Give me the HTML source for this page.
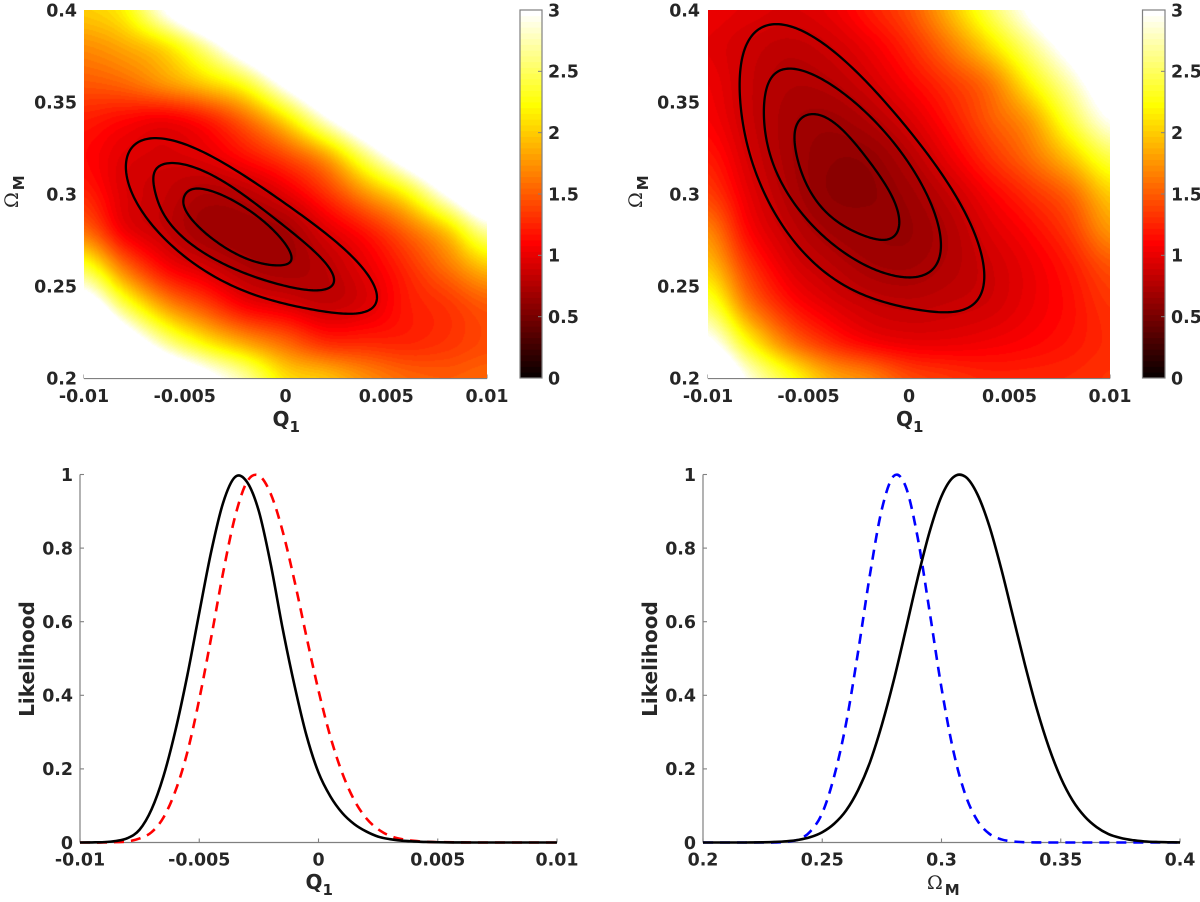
<!DOCTYPE html>
<html lang="en">
<head>
<meta charset="utf-8">
<title>Likelihood contours and marginals</title>
<style>
html,body{margin:0;padding:0;background:#fff;}
#figure{display:block;width:1200px;height:902px;}
text{font-family:"DejaVu Sans","Liberation Sans",sans-serif;font-weight:bold;fill:#262626;font-size:17.4px;}
.serif{font-family:"DejaVu Serif","Liberation Serif",serif;font-weight:normal;font-size:19px;}
.lab{font-size:20px;}
.sub{font-size:15px;}
</style>
</head>
<body>
<svg id="figure" xmlns="http://www.w3.org/2000/svg" width="1200" height="902" viewBox="0 0 1200 902"></svg>
<script>
// Q1 is expressed in units of 1e-3 in every array below.
const heatQ = [-10,-8,-6,-4,-2,0,2,4,6,8,10];
const heatOm = [0.40,0.38,0.36,0.34,0.32,0.30,0.28,0.26,0.24,0.22,0.20];
const heatValuesA = [
[2.0,2.2,2.97,3.73,4.5,5.25,6.03,6.8,7.55,8.3,9.1],
[1.72,1.85,2.1,2.66,3.4,4.18,4.96,5.74,6.5,7.3,8.1],
[1.48,1.55,1.75,2.0,2.35,3.1,3.9,4.65,5.4,6.2,7],
[1.22,1.12,1.05,1.2,1.55,2.08,2.84,3.6,4.37,5.15,5.95],
[1.13,.97,.92,.97,1.15,1.4,1.8,2.54,3.3,4.07,4.85],
[1.25,.95,.85,.75,.8,.98,1.3,1.75,2.22,3.0,3.76],
[1.58,1.05,.85,.69,.67,.7,.95,1.2,1.55,2.0,2.7],
[2.39,1.62,1.125,.92,.76,.71,.8,1.0,1.28,1.6,1.95],
[3.36,2.44,1.77,1.4,1.07,.95,.85,.95,1.2,1.33,1.5],
[4.36,3.44,2.65,2.15,1.8,1.53,1.27,1.25,1.25,1.32,1.42],
[5.36,4.44,3.65,3.14,2.68,2.1,1.95,1.72,1.55,1.5,1.55]
];
const heatValuesB = [
[1.02,.97,.93,1.0,1.2,1.45,1.9,2.45,3.03,3.6,4.2],
[.98,.88,.82,.88,1.03,1.27,1.62,2.06,2.6,3.16,3.7],
[1.03,.86,.76,.78,.9,1.1,1.33,1.62,2.18,2.74,3.29],
[1.08,.87,.72,.68,.76,.93,1.18,1.48,1.79,2.39,2.95],
[1.2,.92,.72,.62,.63,.78,1.02,1.3,1.58,1.97,2.43],
[1.37,1.0,.76,.61,.6,.68,.85,1.08,1.3,1.55,2.0],
[1.68,1.12,.85,.7,.65,.65,.76,.95,1.12,1.35,1.75],
[1.98,1.35,.98,.82,.72,.7,.77,.88,1.02,1.2,1.45],
[2.43,1.65,1.2,.98,.86,.82,.85,.9,1.02,1.15,1.32],
[3.05,2.23,1.62,1.28,1.08,1.0,1.0,1.04,1.1,1.18,1.28],
[3.75,2.9,2.32,1.87,1.68,1.42,1.32,1.25,1.25,1.27,1.32]
];
const contourA3Q = [-8.02,-7.62,-6.48,-5.09,-3.25,-1.27,.72,2.71,3.95,4.59,4.49,3.95,2.71,1.37,-.27,-1.91,-3.6,-5.24,-6.87,-7.72];
const contourA3Om = [.3158,.3255,.331,.3283,.3185,.3038,.2897,.2723,.2587,.2462,.2397,.2359,.2348,.237,.2408,.2467,.2549,.2679,.2859,.3022];
const contourA2Q = [-6.63,-6.33,-5.58,-3.9,-1.27,.72,1.96,2.46,2.36,1.61,-.27,-1.91,-3.6,-5.24,-6.08,-6.53];
const contourA2Om = [.3103,.3147,.3168,.313,.2929,.2761,.263,.2543,.2495,.2473,.2505,.256,.2652,.2766,.2902,.3022];
const contourA1Q = [-5.09,-4.89,-4.39,-3.25,-1.27,-.02,.37,.22,-.42,-1.91,-3.6,-4.64,-5.04];
const contourA1Om = [.2978,.3011,.3033,.3005,.2875,.2734,.2652,.2625,.2609,.2641,.275,.2859,.2924];
const contourB3Q = [-8.56,-8.31,-7.76,-6.57,-5.27,-3.43,-1.44,.55,2.89,3.68,3.88,3.63,2.69,1.54,-.6,-3.08,-5.27,-6.52,-7.26,-8.06];
const contourB3Om = [.3549,.3728,.3875,.3929,.3902,.3745,.3527,.3293,.2875,.2658,.2549,.2451,.237,.2353,.2386,.2495,.2658,.287,.3022,.3277];
const contourB2Q = [-7.26,-7.01,-6.42,-5.77,-4.28,-2.09,-.1,1.19,1.64,1.39,.4,-.45,-1.79,-3.93,-5.92,-6.57,-7.06];
const contourB2Om = [.3495,.362,.3674,.3685,.363,.344,.3201,.2929,.2712,.2603,.2543,.2549,.2587,.2734,.2967,.3092,.3293];
const contourB1Q = [-5.77,-5.57,-4.83,-3.78,-2.09,-.8,-.4,-.8,-1.44,-2.59,-3.93,-4.68,-5.27];
const contourB1Om = [.3293,.3391,.344,.3402,.3201,.2984,.2848,.2761,.2745,.2788,.2875,.2967,.3092];
const likeQ = [-10,-9.5,-9,-8.5,-8,-7.5,-7,-6.5,-6,-5.5,-5,-4.5,-4,-3.5,-3,-2.5,-2,-1.5,-1,-.5,0,.5,1,1.5,2,2.5,3,3.5,4,4.5,5,6,7,8,9,10];
const likeQBlack = [0,.0003,.001,.004,.012,.035,.09,.18,.304,.454,.624,.79,.923,.993,.98,.9,.755,.58,.425,.29,.19,.125,.08,.05,.03,.016,.009,.005,.003,.0015,.0007,.0001,0,0,0,0];
const likeQRed = [0,0,0,.001,.003,.011,.028,.068,.14,.245,.389,.557,.733,.885,.98,.997,.947,.845,.709,.558,.413,.287,.188,.115,.066,.036,.018,.009,.0045,.002,.001,.0002,0,0,0,0];
const likeOm = [.2,.205,.21,.215,.22,.225,.23,.235,.24,.245,.25,.255,.26,.265,.27,.275,.28,.285,.29,.295,.3,.305,.31,.315,.32,.325,.33,.335,.34,.345,.35,.355,.36,.365,.37,.375,.38,.385,.39,.395,.4];
const likeOmBlack = [0,0,0,0,.0001,.0005,.0015,.0034,.0072,.0146,.028,.051,.087,.142,.218,.32,.441,.578,.718,.844,.941,.993,.994,.947,.861,.745,.614,.483,.362,.259,.176,.114,.071,.042,.023,.0125,.0064,.0031,.0014,.0006,.0002];
const likeOmBlue = [0,0,0,0,0,0,0,.002,.008,.03,.08,.18,.324,.517,.728,.906,.996,.967,.829,.628,.42,.248,.13,.06,.024,.0087,.0028,.0008,.0002,0,0,0,0,0,0,0,0,0,0,0,0];
const heatXTicks = [-10,-5,0,5,10];
const heatXLabels = ['-0.01','-0.005','0','0.005','0.01'];
const heatYTicks = [.2,.25,.3,.35,.4];
const heatYLabels = ['0.2','0.25','0.3','0.35','0.4'];
const cbTicks = [0,.5,1,1.5,2,2.5,3];
const cbLabels = ['0','0.5','1','1.5','2','2.5','3'];
const likeYTicks = [0,.2,.4,.6,.8,1];
const likeYLabels = ['0','0.2','0.4','0.6','0.8','1'];
const omXTicks = [.2,.25,.3,.35,.4];
const omXLabels = ['0.2','0.25','0.3','0.35','0.4'];

const NS = 'http://www.w3.org/2000/svg';
const root = document.getElementById('figure');
const AXIS = '#808080';

function make(tag, attrs, parent) {
  const el = document.createElementNS(NS, tag);
  for (const k in attrs) el.setAttribute(k, attrs[k]);
  (parent || root).appendChild(el);
  return el;
}
function linear(d0, d1, r0, r1) {
  return v => r0 + (v - d0) / (d1 - d0) * (r1 - r0);
}
function hotColor(v) {
  let i = Math.floor(v / 3 * 64);
  if (i > 63) i = 63;
  if (i < 0) i = 0;
  const n = i + 1;
  const r = Math.min(1, n / 24);
  const g = Math.max(0, Math.min(1, (n - 24) / 24));
  const b = Math.max(0, Math.min(1, (n - 48) / 16));
  return [Math.round(r * 255), Math.round(g * 255), Math.round(b * 255)];
}
function cr(p0, p1, p2, p3, t) {
  return 0.5 * (2 * p1 + (p2 - p0) * t + (2 * p0 - 5 * p1 + 4 * p2 - p3) * t * t + (3 * p1 - p0 - 3 * p2 + p3) * t * t * t);
}
function sampleGrid(grid, fx, fy) {
  const ny = grid.length, nx = grid[0].length;
  const iy = Math.min(ny - 2, Math.floor(fy)), ix = Math.min(nx - 2, Math.floor(fx));
  const ty = fy - iy, tx = fx - ix;
  const col = [];
  for (let j = -1; j <= 2; j++) {
    const row = grid[Math.max(0, Math.min(ny - 1, iy + j))];
    const g = k => row[Math.max(0, Math.min(nx - 1, ix + k))];
    col.push(cr(g(-1), g(0), g(1), g(2), tx));
  }
  return cr(col[0], col[1], col[2], col[3], ty);
}
function drawHeat(name, grid, x, y) {
  const left = x(heatQ[0]), right = x(heatQ[heatQ.length - 1]);
  const top = y(heatOm[0]), bottom = y(heatOm[heatOm.length - 1]);
  const w = Math.round(right - left), h = Math.round(bottom - top);
  const fo = make('foreignObject', {x: left, y: top, width: w, height: h});
  
  
  const cv = document.createElement('canvas');
  cv.width = w;
  cv.height = h;
  cv.style.display = 'block';
  fo.appendChild(cv);
  const ctx = cv.getContext('2d');
  const img = ctx.createImageData(w, h);
  for (let py = 0; py < h; py++) {
    const fy = (py + 0.5) / h * (heatOm.length - 1);
    for (let px = 0; px < w; px++) {
      const fx = (px + 0.5) / w * (heatQ.length - 1);
      const c = hotColor(sampleGrid(grid, fx, fy));
      const o = (py * w + px) * 4;
      img.data[o] = c[0];
      img.data[o + 1] = c[1];
      img.data[o + 2] = c[2];
      img.data[o + 3] = 255;
    }
  }
  ctx.putImageData(img, 0, 0);
}
// Smooth closed curve through the read contour points: whitened-arc parameter, low harmonics only.
function smoothLoop(raw, keep) {
  const dense = [];
  for (let i = 0; i < raw.length; i++) {
    const a = raw[i], b = raw[(i + 1) % raw.length];
    for (let s = 0; s < 10; s++) dense.push([a[0] + (b[0] - a[0]) * s / 10, a[1] + (b[1] - a[1]) * s / 10]);
  }
  let mx = 0, my = 0;
  dense.forEach(p => { mx += p[0]; my += p[1]; });
  mx /= dense.length;
  my /= dense.length;
  let sxx = 0, sxy = 0, syy = 0;
  dense.forEach(p => { sxx += (p[0] - mx) ** 2; sxy += (p[0] - mx) * (p[1] - my); syy += (p[1] - my) ** 2; });
  sxx /= dense.length;
  sxy /= dense.length;
  syy /= dense.length;
  const l11 = Math.sqrt(sxx), l21 = sxy / l11, l22 = Math.sqrt(syy - l21 * l21);
  const white = p => { const u = (p[0] - mx) / l11; return [u, (p[1] - my - l21 * u) / l22]; };
  const cum = [0];
  for (let i = 0; i < dense.length; i++) {
    const a = white(dense[i]), b = white(dense[(i + 1) % dense.length]);
    cum.push(cum[i] + Math.hypot(b[0] - a[0], b[1] - a[1]));
  }
  const total = cum[dense.length];
  const N = 240, X = [], Y = [];
  let seg = 0;
  for (let i = 0; i < N; i++) {
    const s = i / N * total;
    while (cum[seg + 1] < s) seg++;
    const t = (s - cum[seg]) / (cum[seg + 1] - cum[seg]);
    const a = dense[seg], b = dense[(seg + 1) % dense.length];
    X.push(a[0] + (b[0] - a[0]) * t);
    Y.push(a[1] + (b[1] - a[1]) * t);
  }
  const rebuild = S => {
    const out = new Array(N).fill(0);
    for (let k = 0; k <= keep; k++) {
      let re = 0, im = 0;
      for (let i = 0; i < N; i++) {
        re += S[i] * Math.cos(2 * Math.PI * k * i / N);
        im += S[i] * Math.sin(2 * Math.PI * k * i / N);
      }
      const f = (k === 0 ? 1 : 2) / N;
      for (let i = 0; i < N; i++) {
        out[i] += f * (re * Math.cos(2 * Math.PI * k * i / N) + im * Math.sin(2 * Math.PI * k * i / N));
      }
    }
    return out;
  };
  const XS = rebuild(X), YS = rebuild(Y);
  return XS.map((v, i) => [v, YS[i]]);
}
function drawContour(name, qs, oms, x, y) {
  const raw = qs.map((q, i) => [x(q), y(oms[i])]);
  const loop = smoothLoop(raw, 4);
  const d = 'M' + loop.map(p => p[0].toFixed(2) + ' ' + p[1].toFixed(2)).join('L') + 'Z';
  const p = make('path', {d: d, fill: 'none', stroke: '#000', 'stroke-width': 2.3});
  
  
}
function openPath(xs, ys, x, y) {
  const n = xs.length;
  const P = i => { const k = Math.max(0, Math.min(n - 1, i)); return [x(xs[k]), y(ys[k])]; };
  let d = 'M' + P(0)[0].toFixed(2) + ' ' + P(0)[1].toFixed(2);
  for (let i = 0; i < n - 1; i++) {
    const a = P(i - 1), b = P(i), c = P(i + 1), e = P(i + 2);
    d += 'C' + (b[0] + (c[0] - a[0]) / 6).toFixed(2) + ' ' + (b[1] + (c[1] - a[1]) / 6).toFixed(2) + ' '
      + (c[0] - (e[0] - b[0]) / 6).toFixed(2) + ' ' + (c[1] - (e[1] - b[1]) / 6).toFixed(2) + ' '
      + c[0].toFixed(2) + ' ' + c[1].toFixed(2);
  }
  return d;
}
function drawLine(name, xs, ys, x, y, color, dash) {
  const attrs = {d: openPath(xs, ys, x, y), fill: 'none', stroke: color, 'stroke-width': 2.6};
  if (dash) attrs['stroke-dasharray'] = dash;
  const p = make('path', attrs);
  
  
}
function axisLine(name, x1, y1, x2, y2) {
  const l = make('line', {x1, y1, x2, y2, stroke: AXIS, 'stroke-width': 1.2});
  
  
}
function xAxis(prefix, ticks, labels, x, yBase, labelY, len) {
  axisLine(prefix + '-x-axis-line', x(ticks[0]), yBase, x(ticks[ticks.length - 1]), yBase);
  ticks.forEach((t, i) => {
    const m = make('line', {x1: x(t), y1: yBase, x2: x(t), y2: yBase - len, stroke: AXIS, 'stroke-width': 1.1});
    
    
    const s = make('text', {x: x(t), y: labelY, 'text-anchor': 'middle'});
    s.textContent = labels[i];
    
    
  });
}
function yAxis(prefix, ticks, labels, y, xBase, labelX, len, line) {
  if (line) axisLine(prefix + '-y-axis-line', xBase, y(ticks[0]), xBase, y(ticks[ticks.length - 1]));
  ticks.forEach((t, i) => {
    if (line) {
      const m = make('line', {x1: xBase, y1: y(t), x2: xBase + len, y2: y(t), stroke: AXIS, 'stroke-width': 1.1});
      
      
    }
    const s = make('text', {x: labelX, y: y(t) + 6.3, 'text-anchor': 'end'});
    s.textContent = labels[i];
    
    
  });
}
function colorbar(prefix, x0, x1) {
  const cy = linear(0, 3, 378, 10);
  const group = make('g', {});
  
  
  for (let i = 0; i < 64; i++) {
    const c = hotColor((i + 0.5) / 64 * 3);
    const top = cy((i + 1) / 64 * 3), bot = cy(i / 64 * 3);
    make('rect', {x: x0, y: top, width: x1 - x0, height: bot - top + 0.4, fill: 'rgb(' + c.join(',') + ')'}, group);
  }
  const box = make('rect', {x: x0, y: 10, width: x1 - x0, height: 368, fill: 'none', stroke: AXIS, 'stroke-width': 1.2});
  
  
  cbTicks.forEach((t, i) => {
    const m = make('line', {x1: x1 - 4, y1: cy(t), x2: x1, y2: cy(t), stroke: AXIS, 'stroke-width': 1});
    
    
    const s = make('text', {x: x1 + 6, y: cy(t) + 6.3});
    s.textContent = cbLabels[i];
    
    
  });
}
function q1Label(name, cx, baseline) {
  const t = make('text', {x: cx - 13, y: baseline, class: 'lab'});
  
  
  const a = make('tspan', {}, t);
  a.textContent = 'Q';
  const b = make('tspan', {class: 'sub', dy: 6});
  t.appendChild(b);
  b.textContent = '1';
}
function omLabel(name, x, y, rotate) {
  const attrs = rotate ? {transform: 'translate(' + x + ' ' + y + ') rotate(-90)', x: 0, y: 0} : {x, y};
  attrs['class'] = 'serif';
  const t = make('text', attrs);
  
  
  const a = make('tspan', {}, t);
  a.textContent = 'Ω';
  const b = make('tspan', {dy: 6, dx: 2, style: 'font-family:\'DejaVu Sans\',sans-serif;font-weight:bold;font-size:15px'}, t);
  b.textContent = 'M';
}
function likelihoodLabel(name, x, y) {
  const t = make('text', {transform: 'translate(' + x + ' ' + y + ') rotate(-90)', 'text-anchor': 'middle', class: 'lab', style: 'font-size:20px'});
  t.textContent = 'Likelihood';
  
  
}

// Panel A: top-left map
const xA = linear(-10, 10, 84, 487);
const yA = linear(.2, .4, 378, 10);
xAxis('map-left', heatXTicks, heatXLabels, xA, 378.5, 402, 4);
drawHeat('map-left-heatmap', heatValuesA, xA, yA);
drawContour('map-left-contour-3sigma', contourA3Q, contourA3Om, xA, yA);
drawContour('map-left-contour-2sigma', contourA2Q, contourA2Om, xA, yA);
drawContour('map-left-contour-1sigma', contourA1Q, contourA1Om, xA, yA);
yAxis('map-left', heatYTicks, heatYLabels, yA, 84, 77, 4, false);
colorbar('map-left', 520, 542);
q1Label('map-left-x-axis-title', 285.5, 426);
omLabel('map-left-y-axis-title', 18, 208, true);

// Panel B: top-right map
const xB = linear(-10, 10, 708, 1110);
const yB = linear(.2, .4, 378, 10);
xAxis('map-right', heatXTicks, heatXLabels, xB, 378.5, 402, 4);
drawHeat('map-right-heatmap', heatValuesB, xB, yB);
drawContour('map-right-contour-3sigma', contourB3Q, contourB3Om, xB, yB);
drawContour('map-right-contour-2sigma', contourB2Q, contourB2Om, xB, yB);
drawContour('map-right-contour-1sigma', contourB1Q, contourB1Om, xB, yB);
yAxis('map-right', heatYTicks, heatYLabels, yB, 708, 700, 4, false);
colorbar('map-right', 1142.5, 1165);
q1Label('map-right-x-axis-title', 909, 426);
omLabel('map-right-y-axis-title', 642, 208, true);

// Panel C: marginal of Q1
const xC = linear(-10, 10, 80, 557);
const yC = linear(0, 1, 842.5, 474.5);
xAxis('q1-plot', heatXTicks, heatXLabels, xC, 842.5, 865.5, 4);
yAxis('q1-plot', likeYTicks, likeYLabels, yC, 80, 73, 4, true);
drawLine('q1-red-dashed-curve', likeQ, likeQRed, xC, yC, '#f00', '10 7');
drawLine('q1-black-curve', likeQ, likeQBlack, xC, yC, '#000', null);
q1Label('q1-plot-x-axis-title', 318.5, 889);
likelihoodLabel('q1-plot-y-axis-title', 34, 659);

// Panel D: marginal of Omega_M
const xD = linear(.2, .4, 703, 1180);
const yD = linear(0, 1, 842.5, 474.5);
xAxis('om-plot', omXTicks, omXLabels, xD, 842.5, 865.5, 4);
yAxis('om-plot', likeYTicks, likeYLabels, yD, 703, 696, 4, true);
drawLine('om-blue-dashed-curve', likeOm, likeOmBlue, xD, yD, '#00f', '10 7');
drawLine('om-black-curve', likeOm, likeOmBlack, xD, yD, '#000', null);
omLabel('om-plot-x-axis-title', 927, 889, false);
likelihoodLabel('om-plot-y-axis-title', 657, 659);
</script>
</body>
</html>
